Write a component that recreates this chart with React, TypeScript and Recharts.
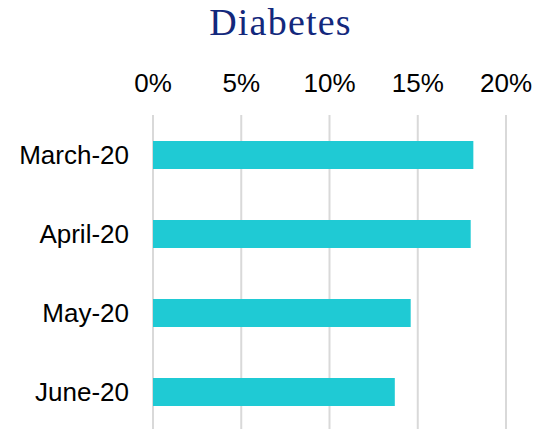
import React from "react";
import { BarChart, Bar, XAxis, YAxis, CartesianGrid } from "recharts";

const categories = ["March-20", "April-20", "May-20", "June-20"];
const diabetesValues = [0.1815, 0.18, 0.146, 0.137];
const xTicks = [0, 0.05, 0.1, 0.15, 0.2];

const data = categories.map((name, i) => ({ name, value: diabetesValues[i] }));

const fmt = (v: number) => `${Math.round(v * 100)}%`;

export default function App() {
  return (
    <div style={{ position: "absolute", left: 0, top: 0, width: 534, height: 429, background: "#fff", overflow: "hidden" }}>
      <BarChart
        width={534}
        height={431}
        data={data}
        layout="vertical"
        margin={{ top: 0, right: 28, bottom: 0, left: 0 }}
      >
        <CartesianGrid horizontal={false} stroke="#d9d9d9" strokeWidth={2} />
        <XAxis
          type="number"
          orientation="top"
          domain={[0, 0.2]}
          ticks={xTicks}
          tickFormatter={fmt}
          axisLine={false}
          tickLine={false}
          tickSize={0}
          tickMargin={23}
          height={115}
          interval={0}
          tick={{ fill: "#000", fontSize: 26, fontFamily: "Liberation Sans, Arial, sans-serif" }}
        />
        <YAxis
          type="category"
          dataKey="name"
          width={153}
          axisLine={false}
          tickLine={false}
          tickSize={0}
          tickMargin={24}
          interval={0}
          tick={{ fill: "#000", fontSize: 26, fontFamily: "Liberation Sans, Arial, sans-serif" }}
        />
        <Bar dataKey="value" fill="#1fcad4" barSize={28} isAnimationActive={false} />
      </BarChart>
      <svg width={534} height={60} style={{ position: "absolute", left: 0, top: 0 }}>
        <text
          x={280.5}
          y={35}
          textAnchor="middle"
          fill="#13287c"
          fontSize={38}
          letterSpacing={1.2}
          fontFamily="Liberation Serif, Times New Roman, serif"
        >
          Diabetes
        </text>
      </svg>
    </div>
  );
}
